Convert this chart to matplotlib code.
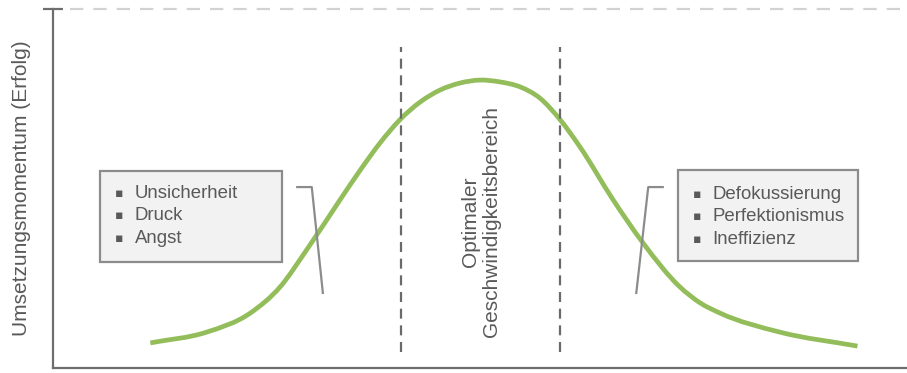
import numpy as np
import matplotlib
matplotlib.use("Agg")
import matplotlib.pyplot as plt
from matplotlib.path import Path
from matplotlib.patches import PathPatch, Rectangle

plt.rcParams['font.family'] = ['Liberation Sans', 'DejaVu Sans']

# Speed (x) vs. implementation momentum (y), arbitrary units 0..100
speed = [11.4, 18.0, 23.1, 26.6, 29.7, 33.6, 36.0, 38.3, 40.6, 43.0, 45.3,
         47.7, 50.0, 52.3, 54.7, 57.0, 59.4, 61.7, 65.6, 69.1, 73.4, 75.8,
         78.1, 85.1, 94.2]
momentum = [7.0, 10.0, 15.3, 22.6, 32.9, 46.8, 55.2, 62.7, 69.1, 74.1, 77.4,
            79.4, 80.2, 79.7, 78.3, 75.2, 69.1, 61.6, 46.8, 34.8, 22.6, 18.1,
            15.3, 10.0, 6.1]

optimal_range = [40.75, 59.4]
left_items = ["Unsicherheit", "Druck", "Angst"]
right_items = ["Defokussierung", "Perfektionismus", "Ineffizienz"]
center_label = "Optimaler\nGeschwindigkeitsbereich"
y_label = "Umsetzungsmomentum (Erfolg)"

TEXT = "#595959"
AXIS = "#6e6e6e"
GREEN = "#93bd5a"
BOX_EDGE = "#8c8c8c"


def hermite_path(xs, ys):
    """Smooth curve through the points as cubic Bezier segments (Hermite tangents)."""
    x = np.asarray(xs, float)
    y = np.asarray(ys, float)
    h = np.diff(x)
    d = np.diff(y) / h
    m = np.empty_like(y)
    m[0], m[-1] = d[0], d[-1]
    m[1:-1] = (d[:-1] * h[1:] + d[1:] * h[:-1]) / (h[:-1] + h[1:])
    verts = [(x[0], y[0])]
    codes = [Path.MOVETO]
    for i in range(len(x) - 1):
        verts += [(x[i] + h[i] / 3, y[i] + m[i] * h[i] / 3),
                  (x[i + 1] - h[i] / 3, y[i + 1] - m[i + 1] * h[i] / 3),
                  (x[i + 1], y[i + 1])]
        codes += [Path.CURVE4] * 3
    return Path(verts, codes)


fig = plt.figure(figsize=(9.07, 3.73), dpi=100)
ax = fig.add_axes([53 / 907, 5 / 373, 854 / 907, 359 / 373])
ax.set_xlim(0, 100)
ax.set_ylim(0, 100)

for s in ("top", "right"):
    ax.spines[s].set_visible(False)
for s in ("left", "bottom"):
    ax.spines[s].set_color(AXIS)
    ax.spines[s].set_linewidth(1.6)

ax.set_xticks([])
ax.set_yticks([100])
ax.set_yticklabels([])
ax.tick_params(axis="y", direction="inout", length=14, width=1.6, color=AXIS)

# Upper reference line
ax.plot([2.0, 100], [100, 100], color="#d2d2d2", lw=1.6,
        dashes=(6, 4.5), clip_on=False)

# Boundaries of the optimal range
for xv in optimal_range:
    ax.plot([xv, xv], [4.5, 89.4], color="#6a6a6a", lw=1.6, dashes=(4.5, 3))

# Momentum curve
ax.add_patch(PathPatch(hermite_path(speed, momentum), facecolor="none",
                       edgecolor=GREEN, lw=3.4, capstyle="butt"))

# Center label
ax.text(50.1, 40.7, center_label, rotation=90, ha="center", va="center",
        fontsize=15, color=TEXT, linespacing=1.1)

# Side boxes with bullet lists
def bullet_box(x0, x1, y0, y1, items, bullet_x, text_x, rows):
    ax.add_patch(Rectangle((x0, y0), x1 - x0, y1 - y0, facecolor="#f2f2f2",
                           edgecolor=BOX_EDGE, lw=1.6, zorder=3))
    for item, yv in zip(items, rows):
        ax.text(bullet_x, yv, "\u25aa", ha="center", va="center", fontsize=9,
                color=TEXT, family=["DejaVu Sans"], zorder=4)
        ax.text(text_x, yv, item, ha="left", va="center", fontsize=13.4,
                color=TEXT, zorder=4)

bullet_box(5.5, 26.8, 29.5, 54.9, left_items, 7.75, 9.6, [48.5, 42.4, 36.2])
bullet_box(73.2, 94.3, 29.8, 55.1, right_items, 75.4, 77.2, [48.2, 42.1, 35.9])

# Bracket-style callouts
ax.plot([28.6, 30.3, 31.6], [50.4, 50.4, 20.9], color=BOX_EDGE, lw=1.6)
ax.plot([71.4, 69.7, 68.3], [50.4, 50.4, 20.9], color=BOX_EDGE, lw=1.6)

fig.text(22 / 907, 1 - 188 / 373, y_label, rotation=90, ha="center",
         va="center", fontsize=15, color=TEXT)

fig.savefig("out.png", dpi=100)
